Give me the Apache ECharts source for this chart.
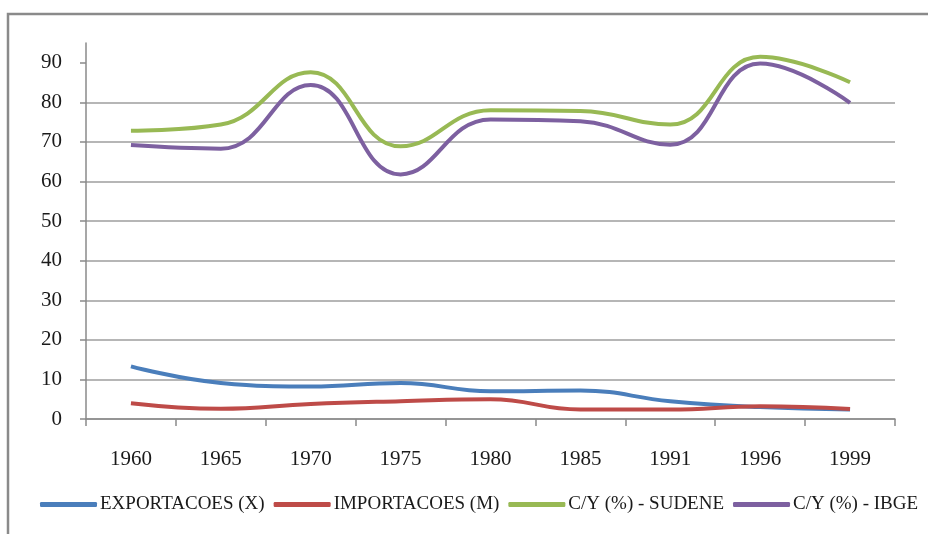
<!DOCTYPE html>
<html>
<head>
<meta charset="utf-8">
<script src="https://cdn.jsdelivr.net/npm/echarts@6/dist/echarts.min.js"></script>
<style>
  html, body { margin: 0; padding: 0; background: #fff; }
  #chart { width: 928px; height: 534px; }
</style>
</head>
<body>
<div id="chart"></div>
<script>
var years = ['1960', '1965', '1970', '1975', '1980', '1985', '1991', '1996', '1999'];
var yTicks = [0, 10, 20, 30, 40, 50, 60, 70, 80, 90];

var exportacoes = [13.3, 9.1, 8.2, 9.1, 7.0, 7.2, 4.5, 3.0, 2.4];
var importacoes = [4.0, 2.6, 3.8, 4.5, 5.0, 2.4, 2.4, 3.2, 2.5];
var cySudene = [72.8, 74.4, 87.6, 68.9, 78.0, 77.8, 74.4, 91.5, 85.1];
var cyIbge = [69.2, 68.3, 84.4, 61.8, 75.7, 75.2, 69.3, 89.8, 79.9];

var chart = echarts.init(document.getElementById('chart'));
var font = 'Liberation Serif';

function lineSeries(name, data, color) {
  return {
    name: name,
    type: 'line',
    data: data,
    smooth: 0.45,
    showSymbol: false,
    symbol: 'none',
    lineStyle: { color: color, width: 4 },
    itemStyle: { color: color }
  };
}

var option = {
  animation: false,
  textStyle: { fontFamily: font },
  graphic: [
    {
      type: 'rect',
      shape: { x: 8, y: 14, width: 960, height: 560 },
      style: { fill: null, stroke: '#8a8a8a', lineWidth: 2.5 }
    }
  ],
  legend: {
    bottom: 20,
    left: 40,
    width: 886,
    padding: 0,
    icon: 'roundRect',
    itemWidth: 57,
    itemHeight: 5,
    itemGap: 9,
    textStyle: { fontFamily: font, fontSize: 19, color: '#1a1a1a', padding: [0, 0, 0, -2] },
    data: ['EXPORTACOES (X)', 'IMPORTACOES (M)', 'C/Y (%) - SUDENE', 'C/Y (%) - IBGE']
  },
  grid: {
    left: 86,
    right: 33,
    top: 43,
    bottom: 115,
    containLabel: false,
    outerBoundsMode: 'none'
  },
  xAxis: {
    type: 'category',
    data: years,
    boundaryGap: true,
    axisLine: { show: true, lineStyle: { color: '#8a8a8a', width: 1.5 } },
    axisTick: { show: true, length: 7, lineStyle: { color: '#8a8a8a', width: 1.5 } },
    axisLabel: { fontFamily: font, fontSize: 21, color: '#1a1a1a', margin: 30 },
    splitLine: { show: false }
  },
  yAxis: {
    type: 'value',
    min: 0,
    max: 95,
    interval: 10,
    axisLine: { show: true, lineStyle: { color: '#8a8a8a', width: 1.5 } },
    axisTick: { show: true, length: 6, customValues: yTicks, lineStyle: { color: '#8a8a8a', width: 1.5 } },
    axisLabel: { fontFamily: font, fontSize: 21, color: '#1a1a1a', margin: 24, customValues: yTicks },
    splitLine: { show: true, showMaxLine: false, lineStyle: { color: '#9e9e9e', width: 1.5 } }
  },
  series: [
    lineSeries('EXPORTACOES (X)', exportacoes, '#4a7ebb'),
    lineSeries('IMPORTACOES (M)', importacoes, '#be4b48'),
    lineSeries('C/Y (%) - SUDENE', cySudene, '#98b954'),
    lineSeries('C/Y (%) - IBGE', cyIbge, '#7d60a0')
  ]
};

chart.setOption(option);
</script>
</body>
</html>
